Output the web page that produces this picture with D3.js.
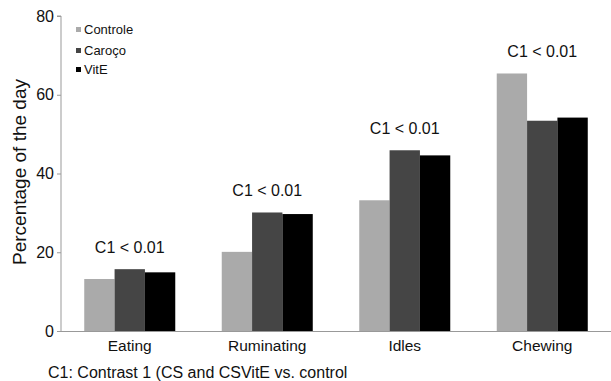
<!DOCTYPE html>
<html>
<head>
<meta charset="utf-8">
<script src="https://cdn.jsdelivr.net/npm/d3@7/dist/d3.min.js"></script>
<style>
  body { margin: 0; background: #fff; }
  svg { display: block; font-family: "Liberation Sans", Arial, sans-serif; }
</style>
</head>
<body>
<svg id="chart" width="611" height="381"></svg>
<script>
const categories = ["Eating", "Ruminating", "Idles", "Chewing"];
const seriesNames = ["Controle", "Caroço", "VitE"];
const controle = [13.2, 20.1, 33.2, 65.4];
const caroco = [15.7, 30.1, 45.9, 53.4];
const vitE = [14.9, 29.7, 44.6, 54.2];
const annotations = ["C1 < 0.01", "C1 < 0.01", "C1 < 0.01", "C1 < 0.01"];
const yTicks = [0, 20, 40, 60, 80];
const colors = ["#aaaaaa", "#454545", "#000000"];
const yTitle = "Percentage of the day";
const footnote = "C1: Contrast 1 (CS and CSVitE vs. control";

const series = [controle, caroco, vitE];
const svg = d3.select("#chart");

const x = d3.scaleBand().domain(categories).range([61, 611]).paddingInner(0.338).paddingOuter(0.169);
const xs = d3.scaleBand().domain(seriesNames).range([0, x.bandwidth()]);
const y = d3.scaleLinear().domain([0, 80]).range([331, 16]);

// bars
categories.forEach((c, i) => {
  series.forEach((s, j) => {
    svg.append("rect")
      .attr("x", x(c) + xs(seriesNames[j]))
      .attr("y", y(s[i]))
      .attr("width", xs.bandwidth())
      .attr("height", y(0) - y(s[i]))
      .attr("fill", colors[j]);
  });
});

// y axis
const yAxis = svg.append("g").attr("transform", "translate(61,0)")
  .call(d3.axisLeft(y).tickValues(yTicks).tickSize(4).tickPadding(3));
yAxis.select(".domain").attr("stroke", "#999").attr("d", `M-4,${y(80)}H0V${y(0)}`);
yAxis.selectAll(".tick line").attr("stroke", "#999");
yAxis.selectAll(".tick text").attr("font-size", 16).attr("fill", "#111")
  .attr("font-family", "Liberation Sans, Arial, sans-serif");

// x axis
const xAxis = svg.append("g").attr("transform", `translate(0,${y(0)})`)
  .call(d3.axisBottom(x).tickSize(0).tickPadding(9));
xAxis.select(".domain").attr("stroke", "#999").attr("d", "M61,0.5H611");
xAxis.selectAll(".tick text").attr("font-size", 15.5).attr("fill", "#111")
  .attr("font-family", "Liberation Sans, Arial, sans-serif");

// annotations
categories.forEach((c, i) => {
  const top = d3.max(series, s => s[i]);
  svg.append("text")
    .attr("x", x(c) + x.bandwidth() / 2)
    .attr("y", y(top) - 16)
    .attr("text-anchor", "middle")
    .attr("font-size", 16)
    .attr("fill", "#111")
    .text(annotations[i]);
});

// y title
svg.append("text")
  .attr("transform", "translate(26,172) rotate(-90)")
  .attr("text-anchor", "middle")
  .attr("font-size", 19)
  .attr("fill", "#111")
  .text(yTitle);

// legend
const legend = svg.append("g");
const legendY = [29, 50, 69];
seriesNames.forEach((n, j) => {
  legend.append("rect").attr("x", 76).attr("y", legendY[j] - 2).attr("width", 5).attr("height", 5).attr("fill", colors[j]);
  legend.append("text").attr("x", 84).attr("y", legendY[j] + 4.5)
    .attr("font-size", 13).attr("fill", "#111").text(n);
});

// footnote
svg.append("text")
  .attr("x", 48).attr("y", 378)
  .attr("font-size", 16)
  .attr("fill", "#111")
  .text(footnote);
</script>
</body>
</html>
